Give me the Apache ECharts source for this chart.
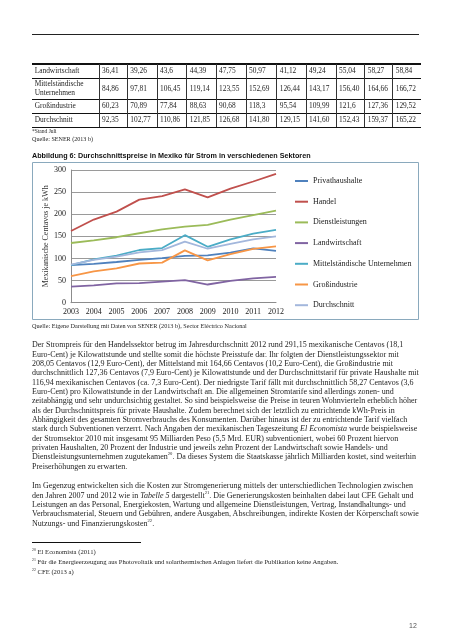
<!DOCTYPE html>
<html><head><meta charset="utf-8">
<script src="https://cdn.jsdelivr.net/npm/echarts@6/dist/echarts.min.js"></script>
<style>
html,body{margin:0;padding:0;background:#fff;}
#page{position:relative;width:451px;height:640px;overflow:hidden;font-family:"Liberation Serif",serif;color:#1e1e1e;}
#chart{position:absolute;left:0;top:0;width:451px;height:640px;}
.abs{position:absolute;white-space:nowrap;}
.blk div{white-space:nowrap;}
sup{font-size:58%;line-height:0;vertical-align:super;}
.hl{position:absolute;background:#111;}
.vl{position:absolute;background:#333;width:1px;}
.cell{position:absolute;display:flex;align-items:center;padding-left:3px;box-sizing:border-box;white-space:nowrap;line-height:8.6px;}
</style></head><body>
<div id="page">
<div id="chart"></div>
<div class="hl" style="left:32px;top:34px;width:387px;height:1px;background:#222"></div>
<div id="table"></div>
<div class="abs" id="stand" style="left:32px;top:127px;line-height:8px;font-size:5.5px">*Stand Juli</div>
<div class="abs" id="qsener" style="left:32px;top:134.5px;line-height:8px;font-size:6px"><span>Quelle: SENER (2013 b)</span></div>
<div class="abs" id="title" style="left:32px;top:150.5px;line-height:10px;font-family:'Liberation Sans',Arial,sans-serif;font-weight:bold;font-size:8px;color:#111"><span>Abbildung 6: Durchschnittspreise in Mexiko für Strom in verschiedenen Sektoren</span></div>
<div class="abs" id="qchart" style="left:32px;top:322px;line-height:8px;font-size:6px"><span>Quelle: Eigene Darstellung mit Daten von SENER (2013 b), Sector Eléctrico Nacional</span></div>
<div class="abs blk" id="p1" style="left:32px;top:340.3px;line-height:9.35px;font-size:8px">
<div><span>Der Strompreis für den Handelssektor betrug im Jahresdurchschnitt 2012 rund 291,15 mexikanische Centavos (18,1</span></div>
<div><span>Euro-Cent) je Kilowattstunde und stellte somit die höchste Preisstufe dar. Ihr folgten der Dienstleistungssektor mit</span></div>
<div><span>208,05 Centavos (12,9 Euro-Cent), der Mittelstand mit 164,66 Centavos (10,2 Euro-Cent), die Großindustrie mit</span></div>
<div><span>durchschnittlich 127,36 Centavos (7,9 Euro-Cent) je Kilowattstunde und der Durchschnittstarif für private Haushalte mit</span></div>
<div><span>116,94 mexikanischen Centavos (ca. 7,3 Euro-Cent). Der niedrigste Tarif fällt mit durchschnittlich 58,27 Centavos (3,6</span></div>
<div><span>Euro-Cent) pro Kilowattstunde in der Landwirtschaft an. Die allgemeinen Stromtarife sind allerdings zonen- und</span></div>
<div><span>zeitabhängig und sehr undurchsichtig gestaltet. So sind beispielsweise die Preise in teuren Wohnvierteln erheblich höher</span></div>
<div><span>als der Durchschnittspreis für private Haushalte. Zudem berechnet sich der letztlich zu entrichtende kWh-Preis in</span></div>
<div><span>Abhängigkeit des gesamten Stromverbrauchs des Konsumenten. Darüber hinaus ist der zu entrichtende Tarif vielfach</span></div>
<div><span>stark durch Subventionen verzerrt. Nach Angaben der mexikanischen Tageszeitung <i>El Economista</i> wurde beispielsweise</span></div>
<div><span>der Stromsektor 2010 mit insgesamt 95 Milliarden Peso (5,5 Mrd. EUR) subventioniert, wobei 60 Prozent hiervon</span></div>
<div><span>privaten Haushalten, 20 Prozent der Industrie und jeweils zehn Prozent der Landwirtschaft sowie Handels- und</span></div>
<div><span>Dienstleistungsunternehmen zugutekamen<sup>20</sup>. Da dieses System die Staatskasse jährlich Milliarden kostet, sind weiterhin</span></div>
<div><span>Preiserhöhungen zu erwarten.</span></div>
</div>
<div class="abs blk" id="p2" style="left:32px;top:481.3px;line-height:9.35px;font-size:8px">
<div><span>Im Gegenzug entwickelten sich die Kosten zur Stromgenerierung mittels der unterschiedlichen Technologien zwischen</span></div>
<div><span>den Jahren 2007 und 2012 wie in <i>Tabelle 5</i> dargestellt<sup>21</sup>. Die Generierungskosten beinhalten dabei laut CFE Gehalt und</span></div>
<div><span>Leistungen an das Personal, Energiekosten, Wartung und allgemeine Dienstleistungen, Vertrag, Instandhaltungs- und</span></div>
<div><span>Verbrauchsmaterial, Steuern und Gebühren, andere Ausgaben, Abschreibungen, indirekte Kosten der Körperschaft sowie</span></div>
<div><span>Nutzungs- und Finanzierungskosten<sup>22</sup>.</span></div>
</div>
<div class="hl" style="left:32px;top:542px;width:109px;height:1px;background:#111"></div>
<div class="abs blk" id="fn" style="left:32px;top:547px;line-height:10px;font-size:6.5px">
<div><span><sup>20</sup> El Economista (2011)</span></div>
<div><span><sup>21</sup> Für die Energieerzeugung aus Photovoltaik und solarthermischen Anlagen liefert die Publikation keine Angaben.</span></div>
<div><span><sup>22</sup> CFE (2013 a)</span></div>
</div>
<div class="abs" style="left:409px;top:621px;line-height:10px;font-size:7px;font-family:'Liberation Sans',Arial,sans-serif;color:#555">12</div>
</div>
<script>
// ---- Table data (2003 ... 2013*) ----
const tblLandwirtschaft = ['36,41','39,26','43,6','44,39','47,75','50,97','41,12','49,24','55,04','58,27','58,84'];
const tblMittelstand = ['84,86','97,81','106,45','119,14','123,55','152,69','126,44','143,17','156,40','164,66','166,72'];
const tblGrossindustrie = ['60,23','70,89','77,84','88,63','90,68','118,3','95,54','109,99','121,6','127,36','129,52'];
const tblDurchschnitt = ['92,35','102,77','110,86','121,85','126,68','141,80','129,15','141,60','152,43','159,37','165,22'];
const tblLabels = ['Landwirtschaft','Mittelständische<br>Unternehmen','Großindustrie','Durchschnitt'];

// ---- Chart data ----
const years = ['2003','2004','2005','2006','2007','2008','2009','2010','2011','2012'];
const yTicks = [0,50,100,150,200,250,300];
const privathaushalte = [85, 88, 92, 97, 101, 106, 107, 113, 123, 116.94];
const handel = [162, 188, 206, 233, 241, 256, 238, 258, 274, 291.15];
const dienstleistungen = [135, 141, 148, 157, 166, 172, 176, 188, 198, 208.05];
const landwirtschaft = [36.41, 39.26, 43.6, 44.39, 47.75, 50.97, 41.12, 49.24, 55.04, 58.27];
const mittelstand = [84.86, 97.81, 106.45, 119.14, 123.55, 152.69, 126.44, 143.17, 156.40, 164.66];
const grossindustrie = [60.23, 70.89, 77.84, 88.63, 90.68, 118.3, 95.54, 109.99, 121.6, 127.36];
const durchschnitt = [86, 97, 104, 114, 119, 138, 122, 133, 143, 150];
const seriesNames = ['Privathaushalte','Handel','Dienstleistungen','Landwirtschaft','Mittelständische Unternehmen','Großindustrie','Durchschnitt'];
const seriesData = [privathaushalte, handel, dienstleistungen, landwirtschaft, mittelstand, grossindustrie, durchschnitt];
const seriesColors = ['#4F81BD','#C0504D','#9BBB59','#8064A2','#4BACC6','#F79646','#A3B7DC'];

// ---- build table ----
(function(){
  const t = document.getElementById('table');
  const colX=[31.7,99,127.3,157,186.7,216,246,276.7,306,336,364.7,392.7,420.7];
  const rowY=[64,78.3,99.3,113,127.3];
  const rows=[tblLandwirtschaft,tblMittelstand,tblGrossindustrie,tblDurchschnitt];
  let h='';
  rows.forEach((vals,r)=>{
    const top=rowY[r], ht=rowY[r+1]-rowY[r];
    h+=`<div class="cell" style="left:${colX[0]}px;top:${top}px;width:${colX[1]-colX[0]}px;height:${ht}px;font-size:7.4px">${tblLabels[r]}</div>`;
    vals.forEach((v,c)=>{
      h+=`<div class="cell" style="left:${colX[c+1]}px;top:${top}px;width:${colX[c+2]-colX[c+1]}px;height:${ht}px;font-size:7.4px">${v}</div>`;
    });
  });
  rowY.forEach((y,i)=>{
    const th=(i===0||i===rowY.length-1)?1.4:1;
    h+=`<div class="hl" style="left:${colX[0]}px;top:${y-th/2}px;width:${colX[12]-colX[0]}px;height:${th}px"></div>`;
  });
  for(let c=1;c<12;c++){
    h+=`<div class="vl" style="left:${colX[c]-0.5}px;top:${rowY[0]}px;height:${rowY[4]-rowY[0]}px"></div>`;
  }
  t.innerHTML=h;
})();

// ---- fit fonts to measured widths ----
function fitBlock(id,target){
  const el=document.getElementById(id);
  const spans=el.querySelectorAll('span');
  let w=0; spans.forEach(s=>{w=Math.max(w,s.getBoundingClientRect().width);});
  const fs=parseFloat(getComputedStyle(el).fontSize);
  el.style.fontSize=(fs*target/w)+'px';
  return fs*target/w;
}
const pf=fitBlock('p1',387);
document.getElementById('p2').style.fontSize=pf+'px';
fitBlock('fn',307);
fitBlock('title',279);
fitBlock('qchart',215);
fitBlock('qsener',61);

// ---- chart ----
const serif='"Liberation Serif", serif';
const chart=echarts.init(document.getElementById('chart'),null,{renderer:'canvas'});
chart.setOption({
  animation:false,
  backgroundColor:'transparent',
  grid:{left:71,top:170,width:205,height:132.7,containLabel:false},
  xAxis:{type:'category',data:years,boundaryGap:false,
    axisLine:{lineStyle:{color:'#8c8c8c',width:1}},axisTick:{show:false},
    axisLabel:{fontFamily:serif,fontSize:8,color:'#222',margin:5},splitLine:{show:false}},
  yAxis:{type:'value',min:yTicks[0],max:yTicks[yTicks.length-1],interval:50,
    name:'Mexikanische Centavos je kWh',nameLocation:'middle',nameGap:20,nameRotate:90,
    nameTextStyle:{fontFamily:serif,fontSize:8,color:'#333'},
    axisLine:{show:true,lineStyle:{color:'#8c8c8c',width:1}},axisTick:{show:false},
    axisLabel:{fontFamily:serif,fontSize:8,color:'#222',margin:5},
    splitLine:{show:true,lineStyle:{color:'#9a9a9a',width:1}}},
  legend:{orient:'vertical',left:295,top:176,padding:0,itemWidth:13,itemHeight:2,icon:'rect',itemGap:10.7,
    data:seriesNames,textStyle:{fontFamily:serif,fontSize:8,color:'#222',lineHeight:10}},
  graphic:[{type:'rect',silent:true,shape:{x:32.5,y:162.5,width:386,height:157},
    style:{fill:'none',stroke:'#8aa9bd',lineWidth:1}}],
  series:seriesNames.map((n,i)=>({name:n,type:'line',data:seriesData[i],showSymbol:false,symbol:'none',
    lineStyle:{color:seriesColors[i],width:1.8},itemStyle:{color:seriesColors[i]}}))
});
</script>
</body></html>
